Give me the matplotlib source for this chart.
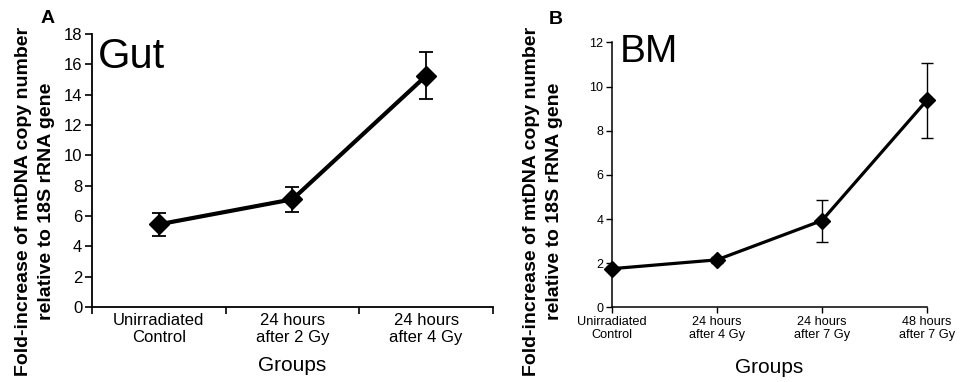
import matplotlib
matplotlib.use("Agg")
import matplotlib.pyplot as plt

plt.rcParams['font.family'] = ['Liberation Sans', 'DejaVu Sans']

# Panel A - gut
gut_groups = ['Unirradiated\nControl', '24 hours\nafter 2 Gy', '24 hours\nafter 4 Gy']
gut_mean = [5.45, 7.1, 15.25]
gut_err = [0.75, 0.83, 1.55]

# Panel B - bone marrow
bm_groups = ['Unirradiated\nControl', '24 hours\nafter 4 Gy', '24 hours\nafter 7 Gy', '48 hours\nafter 7 Gy']
bm_mean = [1.75, 2.15, 3.93, 9.38]
bm_err = [0.08, 0.15, 0.95, 1.7]

ylab = 'Fold-increase of mtDNA copy number\nrelative to 18S rRNA gene'

fig = plt.figure(figsize=(9.62, 3.82), dpi=100)

# ---- A ----
ax = fig.add_axes([0.0956, 0.1963, 0.4169, 0.7147])
xa = [i + 0.5 for i in range(len(gut_groups))]
ax.errorbar(xa, gut_mean, yerr=gut_err, color='black', lw=3, marker='D', ms=10,
            elinewidth=1.3, capsize=5, capthick=1.3)
ax.set_xlim(0, 3)
ax.set_ylim(0, 18)
ax.set_yticks(range(0, 19, 2))
ax.set_xticks([0, 1, 2, 3], minor=False)
ax.set_xticklabels([])
ax.set_xticks(xa, minor=True)
ax.set_xticklabels(gut_groups, minor=True, fontsize=12)
ax.tick_params(axis='x', which='minor', length=0, pad=4)
ax.tick_params(axis='x', which='major', length=5, width=1.2, direction='out')
ax.tick_params(axis='y', length=5, width=1.2, labelsize=12, pad=2)
for s in ['top', 'right']:
    ax.spines[s].set_visible(False)
for s in ['left', 'bottom']:
    ax.spines[s].set_linewidth(1.3)
ax.set_xlabel('Groups', fontsize=15, labelpad=8)
fig.text(35 / 962, 1 - 201 / 382, ylab, rotation=90, ha='center', va='center',
         multialignment='center', fontsize=14, fontweight='bold', linespacing=1.45)
ax.text(0.015, 0.99, 'Gut', transform=ax.transAxes, fontsize=30, va='top', ha='left')
fig.text(41 / 962, 1 - 10 / 382, 'A', fontsize=14, fontweight='bold', va='top', ha='left')

# ---- B ----
bx = fig.add_axes([0.636, 0.1955, 0.3276, 0.6935])
xb = list(range(len(bm_groups)))
bx.errorbar(xb, bm_mean, yerr=bm_err, color='black', lw=2.3, marker='D', ms=8.5,
            elinewidth=1.0, capsize=4, capthick=1.0, clip_on=False)
bx.set_xlim(0, 3)
bx.set_ylim(0, 12)
bx.set_yticks(range(0, 13, 2))
bx.set_xticks(xb)
bx.set_xticklabels(bm_groups, fontsize=9.2)
bx.tick_params(axis='x', length=4, width=1.0, pad=2)
bx.tick_params(axis='y', length=4, width=1.0, labelsize=9, pad=2)
for s in ['top', 'right']:
    bx.spines[s].set_visible(False)
for s in ['left', 'bottom']:
    bx.spines[s].set_linewidth(1.1)
bx.set_xlabel('Groups', fontsize=15, labelpad=12)
fig.text(543 / 962, 1 - 201 / 382, ylab, rotation=90, ha='center', va='center',
         multialignment='center', fontsize=14, fontweight='bold', linespacing=1.45)
bx.text(0.025, 1.03, 'BM', transform=bx.transAxes, fontsize=28, va='top', ha='left')
fig.text(549 / 962, 1 - 11 / 382, 'B', fontsize=14, fontweight='bold', va='top', ha='left')

fig.savefig('out.png', dpi=100)
